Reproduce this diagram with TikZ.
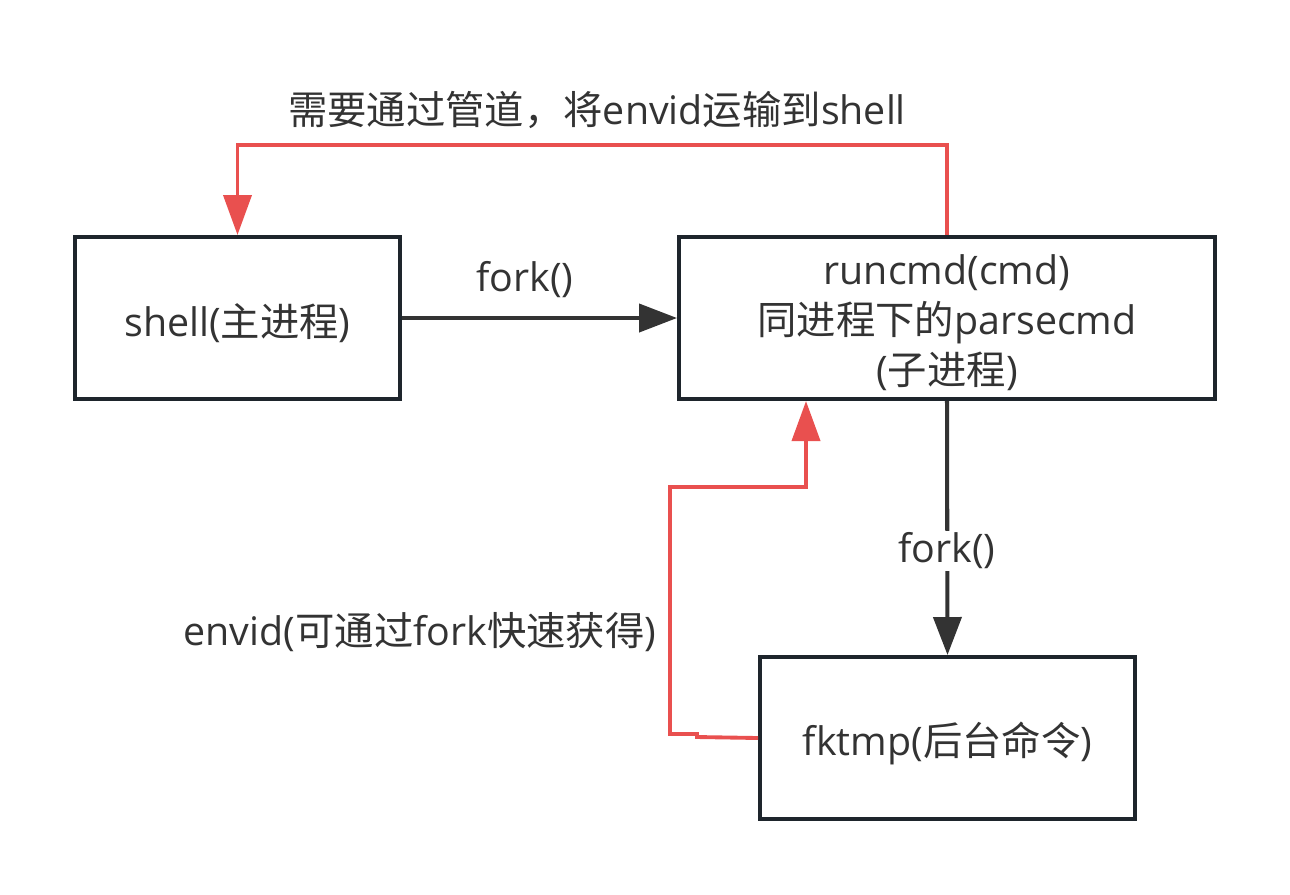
\documentclass[tikz,border=0pt]{standalone}
\usepackage{fontspec}
\setmainfont{Open Sans}
\newfontfamily\cjk{Noto Sans CJK SC}
\usetikzlibrary{arrows.meta}
\definecolor{boxline}{HTML}{1E252C}
\definecolor{inkgray}{HTML}{333333}
\definecolor{pipered}{HTML}{E9504F}
\begin{document}
\begin{tikzpicture}[x=0.02cm,y=-0.02cm,
	proc/.style={draw=boxline, line width=2.3pt, minimum height=3.24cm},
	forkarrow/.style={draw=inkgray, line width=2.3pt, -{Triangle[length=0.76cm,width=0.56cm]}},
	pipearrow/.style={draw=pipered, line width=2.2pt, -{Triangle[length=0.8cm,width=0.56cm]}},
	lbl/.style={text=inkgray, align=center}]
	\useasboundingbox (0,0) rectangle (1290,894);
	\fontsize{22.4pt}{1cm}\selectfont
	\node[proc, minimum width=6.5cm] (sh) at (237.5,318) {};
	\node[proc, minimum width=10.72cm] (run) at (947,318) {};
	\node[proc, minimum width=7.5cm] (fk) at (947.5,738) {};
	\node[lbl] (shtext) at ([yshift=-0.1cm]sh.center) {shell({\cjk 主进程})};
	\node[lbl] (runtext) at ([yshift=-0.1cm]run.center) {runcmd(cmd)\\{\cjk 同进程下的}parsecmd\\({\cjk 子进程})};
	\node[lbl] (fktext) at ([yshift=-0.1cm]fk.center) {fktmp({\cjk 后台命令})};
	% fork arrows
	\draw[forkarrow] (sh.east) -- (run.west);
	\node[lbl] (f1) at (525,280) {fork()};
	\draw[forkarrow] (run.south) -- (fk.north);
	\node[lbl, fill=white, inner sep=1pt] (f2) at (947,551) {fork()};
	% pipes back
	\draw[pipearrow] (run.north) -- ++(0,-90) -| (sh.north);
	\node[lbl] (top) at (597,110) {{\cjk 需要通过管道，将}envid{\cjk 运输到}shell};
	\coordinate (bend) at (806,487);
	\draw[pipearrow] (fk.west) -- (697,737) -- (697,734) -- (670,734) |- (bend) -- (run.south -| bend);
	\node[lbl] (env) at (420,632) {envid({\cjk 可通过}fork{\cjk 快速获得})};
\end{tikzpicture}
\end{document}
